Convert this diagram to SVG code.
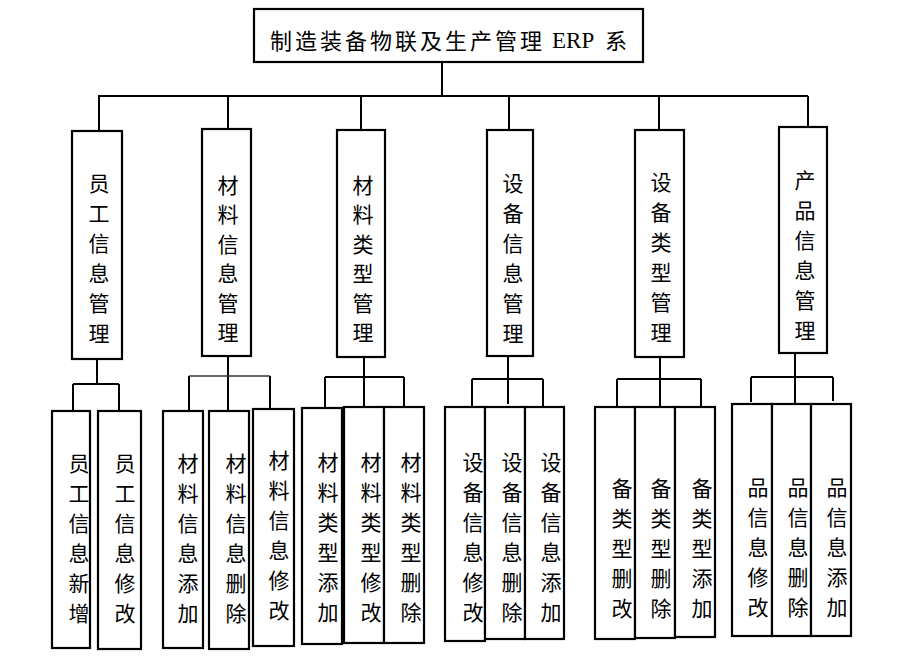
<svg xmlns="http://www.w3.org/2000/svg" width="901" height="660" viewBox="0 0 901 660">
<style>
.box{fill:#fff;stroke:#000;stroke-width:2.2}
.ln{fill:none;stroke:#000;stroke-width:2}
.thin{fill:none;stroke:#333;stroke-width:1.5}
text{font-family:"Liberation Serif","Noto Sans CJK SC",serif;font-size:21px;fill:#000;text-anchor:middle}
.title{font-size:22px;text-anchor:start}
</style>
<rect width="901" height="660" fill="#fff"/>
<g id="connectors">
<path class="ln" d="M442,62V96M98,96H808M99,96V131M228,96V129M361,96V130M509,96V130M659,96V130M808,96V127"/>
<path class="ln" d="M97,359V384M73,384H119M73,384V411M119,384V411"/>
<path class="ln" d="M228,356V411"/><path class="thin" d="M189,376H270"/><path class="ln" d="M189,376V411M270,376V409"/>
<path class="ln" d="M364,357V407M325,377H404M325,377V408M404,377V407"/>
<path class="ln" d="M508,356V404M472,379H543M472,379V407M543,379V407"/>
<path class="ln" d="M660,357V407M617,379H701M617,379V407M701,379V407"/>
<path class="ln" d="M795,353V404M751,377H833M751,377V402M833,377V401"/>
</g>
<g id="root"><rect class="box" x="254" y="9" width="389" height="53"/><text class="title"><tspan x="270" y="49" textLength="272" lengthAdjust="spacing">制造装备物联及生产管理</tspan><tspan x="552" y="48" font-size="23">ERP</tspan><tspan x="605" y="49">系</tspan></text></g>
<g id="n1"><rect class="box" x="72" y="131" width="50" height="228"/><text><tspan x="99" y="191">员</tspan><tspan x="99" y="221">工</tspan><tspan x="99" y="251">信</tspan><tspan x="99" y="281">息</tspan><tspan x="99" y="311">管</tspan><tspan x="99" y="341">理</tspan></text></g>
<g id="n2"><rect class="box" x="202" y="129" width="49" height="227"/><text><tspan x="228" y="193">材</tspan><tspan x="228" y="222">料</tspan><tspan x="228" y="252">信</tspan><tspan x="228" y="281">息</tspan><tspan x="228" y="311">管</tspan><tspan x="228" y="340">理</tspan></text></g>
<g id="n3"><rect class="box" x="337" y="130" width="48" height="227"/><text><tspan x="363" y="193">材</tspan><tspan x="363" y="222">料</tspan><tspan x="363" y="252">类</tspan><tspan x="363" y="281">型</tspan><tspan x="363" y="311">管</tspan><tspan x="363" y="340">理</tspan></text></g>
<g id="n4"><rect class="box" x="487" y="130" width="46" height="226"/><text><tspan x="513" y="191">设</tspan><tspan x="513" y="221">备</tspan><tspan x="513" y="251">信</tspan><tspan x="513" y="281">息</tspan><tspan x="513" y="311">管</tspan><tspan x="513" y="341">理</tspan></text></g>
<g id="n5"><rect class="box" x="635" y="130" width="49" height="227"/><text><tspan x="661" y="190">设</tspan><tspan x="661" y="220">备</tspan><tspan x="661" y="250">类</tspan><tspan x="661" y="280">型</tspan><tspan x="661" y="310">管</tspan><tspan x="661" y="340">理</tspan></text></g>
<g id="n6"><rect class="box" x="779" y="127" width="48" height="226"/><text><tspan x="805" y="188">产</tspan><tspan x="805" y="218">品</tspan><tspan x="805" y="248">信</tspan><tspan x="805" y="278">息</tspan><tspan x="805" y="308">管</tspan><tspan x="805" y="338">理</tspan></text></g>

<g id="n1a"><rect class="box" x="52" y="411" width="38" height="237"/><text><tspan x="79" y="471">员</tspan><tspan x="79" y="501">工</tspan><tspan x="79" y="531">信</tspan><tspan x="79" y="561">息</tspan><tspan x="79" y="591">新</tspan><tspan x="79" y="621">增</tspan></text></g>
<g id="n1b"><rect class="box" x="98" y="411" width="43" height="238"/><text><tspan x="125" y="471">员</tspan><tspan x="125" y="501">工</tspan><tspan x="125" y="531">信</tspan><tspan x="125" y="561">息</tspan><tspan x="125" y="591">修</tspan><tspan x="125" y="621">改</tspan></text></g>

<g id="n2a"><rect class="box" x="163" y="411" width="40" height="237"/><text><tspan x="188" y="471">材</tspan><tspan x="188" y="501">料</tspan><tspan x="188" y="531">信</tspan><tspan x="188" y="561">息</tspan><tspan x="188" y="591">添</tspan><tspan x="188" y="621">加</tspan></text></g>
<g id="n2b"><rect class="box" x="209" y="411" width="40" height="238"/><text><tspan x="236" y="471">材</tspan><tspan x="236" y="501">料</tspan><tspan x="236" y="531">信</tspan><tspan x="236" y="561">息</tspan><tspan x="236" y="591">删</tspan><tspan x="236" y="621">除</tspan></text></g>
<g id="n2c"><rect class="box" x="253" y="409" width="41" height="237"/><text><tspan x="279" y="468">材</tspan><tspan x="279" y="498">料</tspan><tspan x="279" y="528">信</tspan><tspan x="279" y="558">息</tspan><tspan x="279" y="588">修</tspan><tspan x="279" y="618">改</tspan></text></g>

<g id="n3a"><rect class="box" x="302" y="408" width="40" height="236"/><text><tspan x="328" y="470">材</tspan><tspan x="328" y="500">料</tspan><tspan x="328" y="530">类</tspan><tspan x="328" y="560">型</tspan><tspan x="328" y="590">添</tspan><tspan x="328" y="620">加</tspan></text></g>
<g id="n3b"><rect class="box" x="344" y="407" width="40" height="236"/><text><tspan x="371" y="470">材</tspan><tspan x="371" y="500">料</tspan><tspan x="371" y="530">类</tspan><tspan x="371" y="560">型</tspan><tspan x="371" y="590">修</tspan><tspan x="371" y="620">改</tspan></text></g>
<g id="n3c"><rect class="box" x="384" y="407" width="40" height="236"/><text><tspan x="411" y="470">材</tspan><tspan x="411" y="500">料</tspan><tspan x="411" y="530">类</tspan><tspan x="411" y="560">型</tspan><tspan x="411" y="590">删</tspan><tspan x="411" y="620">除</tspan></text></g>

<g id="n4a"><rect class="box" x="445" y="407" width="40" height="234"/><text><tspan x="473" y="470">设</tspan><tspan x="473" y="500">备</tspan><tspan x="473" y="530">信</tspan><tspan x="473" y="560">息</tspan><tspan x="473" y="590">修</tspan><tspan x="473" y="620">改</tspan></text></g>
<g id="n4b"><rect class="box" x="485" y="407" width="40" height="232"/><text><tspan x="512" y="470">设</tspan><tspan x="512" y="500">备</tspan><tspan x="512" y="530">信</tspan><tspan x="512" y="560">息</tspan><tspan x="512" y="590">删</tspan><tspan x="512" y="620">除</tspan></text></g>
<g id="n4c"><rect class="box" x="525" y="407" width="39" height="232"/><text><tspan x="551" y="470">设</tspan><tspan x="551" y="500">备</tspan><tspan x="551" y="530">信</tspan><tspan x="551" y="560">息</tspan><tspan x="551" y="590">添</tspan><tspan x="551" y="620">加</tspan></text></g>

<g id="n5a"><rect class="box" x="595" y="407" width="40" height="232"/><text><tspan x="622" y="496">备</tspan><tspan x="622" y="526">类</tspan><tspan x="622" y="556">型</tspan><tspan x="622" y="586">删</tspan><tspan x="622" y="616">改</tspan></text></g>
<g id="n5b"><rect class="box" x="635" y="407" width="40" height="231"/><text><tspan x="661" y="496">备</tspan><tspan x="661" y="526">类</tspan><tspan x="661" y="556">型</tspan><tspan x="661" y="586">删</tspan><tspan x="661" y="616">除</tspan></text></g>
<g id="n5c"><rect class="box" x="675" y="407" width="40" height="230"/><text><tspan x="702" y="496">备</tspan><tspan x="702" y="526">类</tspan><tspan x="702" y="556">型</tspan><tspan x="702" y="586">添</tspan><tspan x="702" y="616">加</tspan></text></g>

<g id="n6a"><rect class="box" x="732" y="404" width="40" height="232"/><text><tspan x="758" y="495">品</tspan><tspan x="758" y="525">信</tspan><tspan x="758" y="555">息</tspan><tspan x="758" y="585">修</tspan><tspan x="758" y="615">改</tspan></text></g>
<g id="n6b"><rect class="box" x="772" y="404" width="39" height="232"/><text><tspan x="798" y="495">品</tspan><tspan x="798" y="525">信</tspan><tspan x="798" y="555">息</tspan><tspan x="798" y="585">删</tspan><tspan x="798" y="615">除</tspan></text></g>
<g id="n6c"><rect class="box" x="811" y="404" width="40" height="232"/><text><tspan x="837" y="495">品</tspan><tspan x="837" y="525">信</tspan><tspan x="837" y="555">息</tspan><tspan x="837" y="585">添</tspan><tspan x="837" y="615">加</tspan></text></g>
</svg>
